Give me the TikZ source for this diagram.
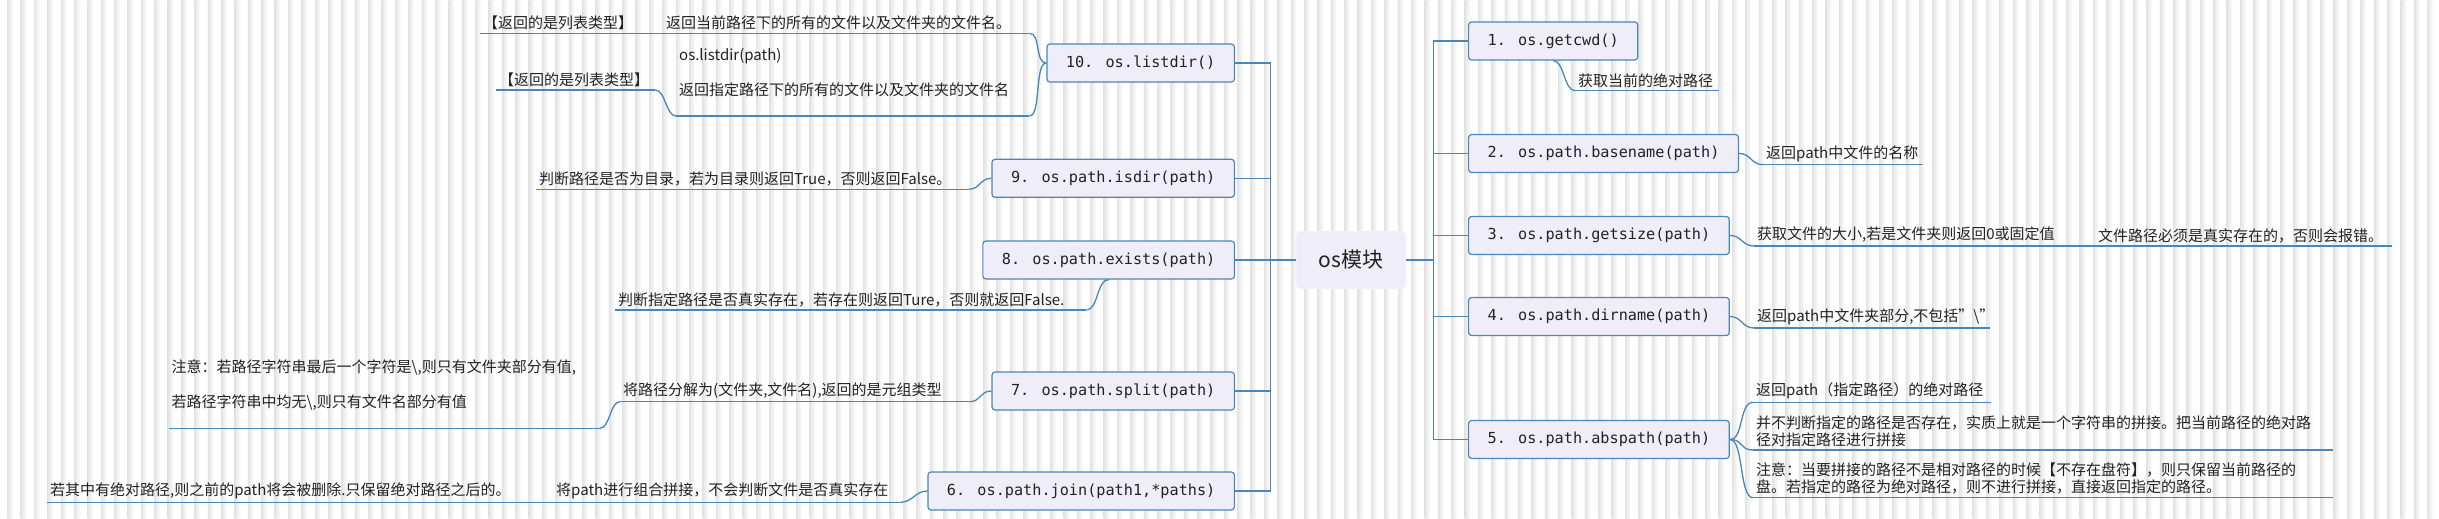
\documentclass[tikz,border=0pt]{standalone}
\usepackage{fontspec}
\setmainfont{Noto Sans CJK SC}
\newfontfamily\codefont{DejaVu Sans Mono}
\usepackage{xcolor}
\usepackage{tikz}
\usetikzlibrary{calc}
\definecolor{lineblue}{HTML}{4A86B8}
\definecolor{topicfill}{HTML}{EFEDF8}
\definecolor{inkgray}{HTML}{222222}

\begin{document}
\begin{tikzpicture}[x=1pt, y=-1pt]
	\tikzset{branch/.style={draw=lineblue, line width=1.3pt}}
	\tikzset{root/.style={draw=white, fill=topicfill, rounded corners=4pt, minimum width=110pt, minimum height=58pt, font={\fontsize{21}{25}\selectfont}, text=inkgray}}
	\tikzset{topic/.style={draw=lineblue, fill=topicfill, rounded corners=3pt, line width=1.2pt, inner xsep=19pt, minimum height=38pt, font={\codefont\fontsize{15.2}{18}\selectfont}, text=inkgray}}
	\tikzset{leaf/.style={anchor=south west, inner xsep=3pt, inner ysep=3pt, align=left, font={\fontsize{15}{17.5}\selectfont}, text=inkgray}}

	\useasboundingbox (0,0) rectangle (2439,519);
	% striped paper
	\fill[white] (0,0) rectangle (2439,519);
	\foreach \i in {0,...,181}
		\shade[left color=black!11, right color=white] (7.3+13.37*\i,0) rectangle ++(6,519);

	\node (root) [root] at (1351,260) {os模块};

	% right side
	\node (n1) [topic, anchor=west] at (1468,41) {1. os.getcwd()};
	\node (n2) [topic, anchor=west] at (1468,153.5) {2. os.path.basename(path)};
	\node (n3) [topic, anchor=west] at (1468,235.5) {3. os.path.getsize(path)};
	\node (n4) [topic, anchor=west] at (1468,316.5) {4. os.path.dirname(path)};
	\node (n5) [topic, anchor=west] at (1468,439.5) {5. os.path.abspath(path)};

	% left side
	\node (n10) [topic, anchor=east] at (1235,63) {10. os.listdir()};
	\node (n9) [topic, anchor=east] at (1235,178.3) {9. os.path.isdir(path)};
	\node (n8) [topic, anchor=east] at (1235,260) {8. os.path.exists(path)};
	\node (n7) [topic, anchor=east] at (1235,391) {7. os.path.split(path)};
	\node (n6) [topic, anchor=east] at (1235,491) {6. os.path.join(path1,*paths)};

	\draw[branch] (root.east) -- ++(27,0) coordinate (rfork);
	\draw[branch] (root.west) -- ++(-25,0) coordinate (lfork);
	\foreach \n in {n1,n2,n3,n4,n5}
		\draw[branch] (rfork) |- (\n.west);
	\foreach \n in {n6,n7,n8,n9,n10}
		\draw[branch] (lfork) |- (\n.east);

	% notes
	\node (c1) [leaf, text width=138pt] at (1575,90.7) {获取当前的绝对路径};
	\node (c2) [leaf, text width=154pt] at (1763,164.7) {返回path中文件的名称};
	\node (c3) [leaf, text width=325pt] at (1754,246) {获取文件的大小,若是文件夹则返回0或固定值};
	\node (c3a) [leaf, text width=291pt] at (2095,246) {文件路径必须是真实存在的，否则会报错。};
	\node (c4) [leaf, text width=230pt] at (1754,328) {返回path中文件夹部分,不包括"\textbackslash"};
	\node (c5a) [leaf, text width=232pt] at (1753,402.3) {返回path（指定路径）的绝对路径};
	\node (c5b) [leaf, text width=574pt] at (1753,450) {并不判断指定的路径是否存在，实质上就是一个字符串的拼接。把当前路径的绝对路\\径对指定路径进行拼接};
	\node (c5c) [leaf, text width=574pt] at (1753,497.7) {注意：当要拼接的路径不是相对路径的时候【不存在盘符】，则只保留当前路径的\\盘。若指定的路径为绝对路径，则不进行拼接，直接返回指定的路径。};

	\node (c10a) [leaf, text width=360pt] at (663,33.3) {返回当前路径下的所有的文件以及文件夹的文件名。};
	\node (c10a1) [leaf, text width=152pt] at (480,33.3) {【返回的是列表类型】};
	\node (c10b) [leaf, text width=347pt] at (676,116) {os.listdir(path)\\ \mbox{}\\ 返回指定路径下的所有的文件以及文件夹的文件名\\ \mbox{}};
	\node (c10b1) [leaf, text width=153pt] at (496,90) {【返回的是列表类型】};
	\node (c9) [leaf, text width=426pt] at (536,189.3) {判断路径是否为目录，若为目录则返回True，否则返回False。};
	\node (c8) [leaf, text width=465pt] at (615,310) {判断指定路径是否真实存在，若存在则返回Ture，否则就返回False.};
	\node (c7) [leaf, text width=343pt] at (620,401.7) {将路径分解为(文件夹,文件名),返回的是元组类型};
	\node (c7a) [leaf, text width=425pt] at (168.5,428.3) {注意：若路径字符串最后一个字符是\textbackslash,则只有文件夹部分有值,\\ \mbox{}\\ 若路径字符串中均无\textbackslash,则只有文件名部分有值\\ \mbox{}};
	\node (c6) [leaf, text width=341pt] at (553,502.3) {将path进行组合拼接，不会判断文件是否真实存在};
	\node (c6a) [leaf, text width=474pt] at (47,502.3) {若其中有绝对路径,则之前的path将会被删除.只保留绝对路径之后的。};

	\foreach \c in {c1,c2,c3,c3a,c4,c5a,c5b,c5c,c10a,c10a1,c10b,c10b1,c9,c8,c7,c7a,c6,c6a}
		\draw[branch] (\c.south west) -- (\c.south east);

	\draw[branch] (n1.south) .. controls +(11,0) and +(-11,0) .. (c1.south west);
	\draw[branch] (n2.east) .. controls +(12,0) and +(-12,0) .. (c2.south west);
	\draw[branch] (n3.east) .. controls +(12,0) and +(-12,0) .. (c3.south west);
	\draw[branch] (c3.south east) -- (c3a.south west);
	\draw[branch] (n4.east) .. controls +(12,0) and +(-12,0) .. (c4.south west);
	\foreach \c in {c5a,c5b,c5c}
		\draw[branch] (n5.east) .. controls +(14,0) and +(-14,0) .. (\c.south west);

	\foreach \c in {c10a,c10b}
		\draw[branch] (n10.west) .. controls +(-12,0) and +(12,0) .. (\c.south east);
	\draw[branch] (c10a1.south east) -- (c10a.south west);
	\draw[branch] (c10b.south west) .. controls +(-10,0) and +(10,0) .. (c10b1.south east);
	\draw[branch] (n9.west) .. controls +(-12,0) and +(12,0) .. (c9.south east);
	\draw[branch] (n8.south) .. controls +(-12,0) and +(12,0) .. (c8.south east);
	\draw[branch] (n7.west) .. controls +(-12,0) and +(12,0) .. (c7.south east);
	\draw[branch] (c7.south west) .. controls +(-10,0) and +(10,0) .. (c7a.south east);
	\draw[branch] (n6.west) .. controls +(-12,0) and +(12,0) .. (c6.south east);
	\draw[branch] (c6a.south east) -- (c6.south west);
\end{tikzpicture}
\end{document}
